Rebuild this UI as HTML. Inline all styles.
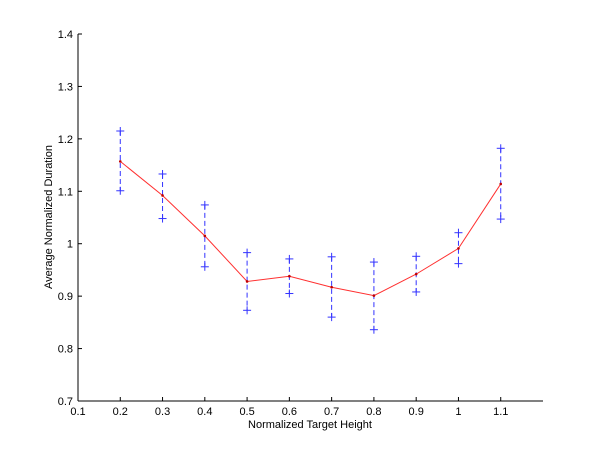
<!DOCTYPE html>
<html><head><meta charset="utf-8"><style>
body{margin:0;background:#fff}
svg{display:block;font-family:"Liberation Sans",Arial,sans-serif}
</style></head><body>
<svg id="chart" width="600" height="451" viewBox="0 0 600 451">
<rect width="600" height="451" fill="#fff"/>
<g id="axes"></g>
<g id="bars"></g>
<g id="line"></g>
<text x="310" y="428" font-size="11" text-anchor="middle">Normalized Target Height</text>
<text transform="translate(52,217) rotate(-90)" font-size="11" text-anchor="middle">Average Normalized Duration</text>
</svg>
<script>
const categories=[0.2,0.3,0.4,0.5,0.6,0.7,0.8,0.9,1.0,1.1];
const means=[1.157,1.092,1.015,0.928,0.938,0.917,0.901,0.942,0.991,1.114];
const upper=[1.215,1.133,1.074,0.983,0.971,0.975,0.965,0.976,1.021,1.182];
const lower=[1.101,1.048,0.956,0.873,0.905,0.860,0.836,0.908,0.962,1.047];
const xTicks=["0.1","0.2","0.3","0.4","0.5","0.6","0.7","0.8","0.9","1","1.1"];
const yTicks=["0.7","0.8","0.9","1","1.1","1.2","1.3","1.4"];
const X0=78,X1=543,Y0=401,Y1=34;
const xs=v=>X0+(v-0.1)/(1.2-0.1)*(X1-X0);
const ys=v=>Y0-(v-0.7)/(1.4-0.7)*(Y0-Y1);
const NS="http://www.w3.org/2000/svg";
function mk(tag,attrs,parent){const e=document.createElementNS(NS,tag);for(const k in attrs)e.setAttribute(k,attrs[k]);parent.appendChild(e);return e;}
const axes=document.getElementById('axes'),bars=document.getElementById('bars'),lineG=document.getElementById('line');
let a=mk('line',{x1:X0,y1:Y0,x2:X1,y2:Y0,stroke:'#000','stroke-width':1},axes);


a=mk('line',{x1:X0,y1:Y0,x2:X0,y2:Y1,stroke:'#000','stroke-width':1},axes);


xTicks.forEach(t=>{const x=xs(parseFloat(t));
 mk('line',{x1:x,y1:Y0,x2:x,y2:Y0-4,stroke:'#000'},axes);
 const tx=mk('text',{x:x,y:Y0+14,'font-size':11,'text-anchor':'middle'},axes);tx.textContent=t;
 
 });
yTicks.forEach(t=>{const y=ys(parseFloat(t));
 mk('line',{x1:X0,y1:y,x2:X0+4,y2:y,stroke:'#000'},axes);
 const tx=mk('text',{x:X0-5,y:y+4,'font-size':11,'text-anchor':'end'},axes);tx.textContent=t;
 
 });
categories.forEach((c,i)=>{const x=xs(c);
 const g=mk('g',{},bars);
 
 
 mk('line',{x1:x,y1:ys(upper[i]),x2:x,y2:ys(lower[i]),stroke:'#3333ff','stroke-dasharray':'5,3'},g);
 [upper[i],lower[i]].forEach(v=>{const y=ys(v);
  mk('line',{x1:x-4,y1:y,x2:x+4,y2:y,stroke:'#3333ff'},g);
  mk('line',{x1:x,y1:y-4,x2:x,y2:y+4,stroke:'#3333ff'},g);});});
const pl=mk('polyline',{points:categories.map((c,i)=>xs(c)+','+ys(means[i])).join(' '),fill:'none',stroke:'#ff3030','stroke-width':1},lineG);


categories.forEach((c,i)=>{const p=mk('circle',{cx:xs(c),cy:ys(means[i]),r:1.3,fill:'#c00000'},lineG);
 
 });
</script>
</body></html>
